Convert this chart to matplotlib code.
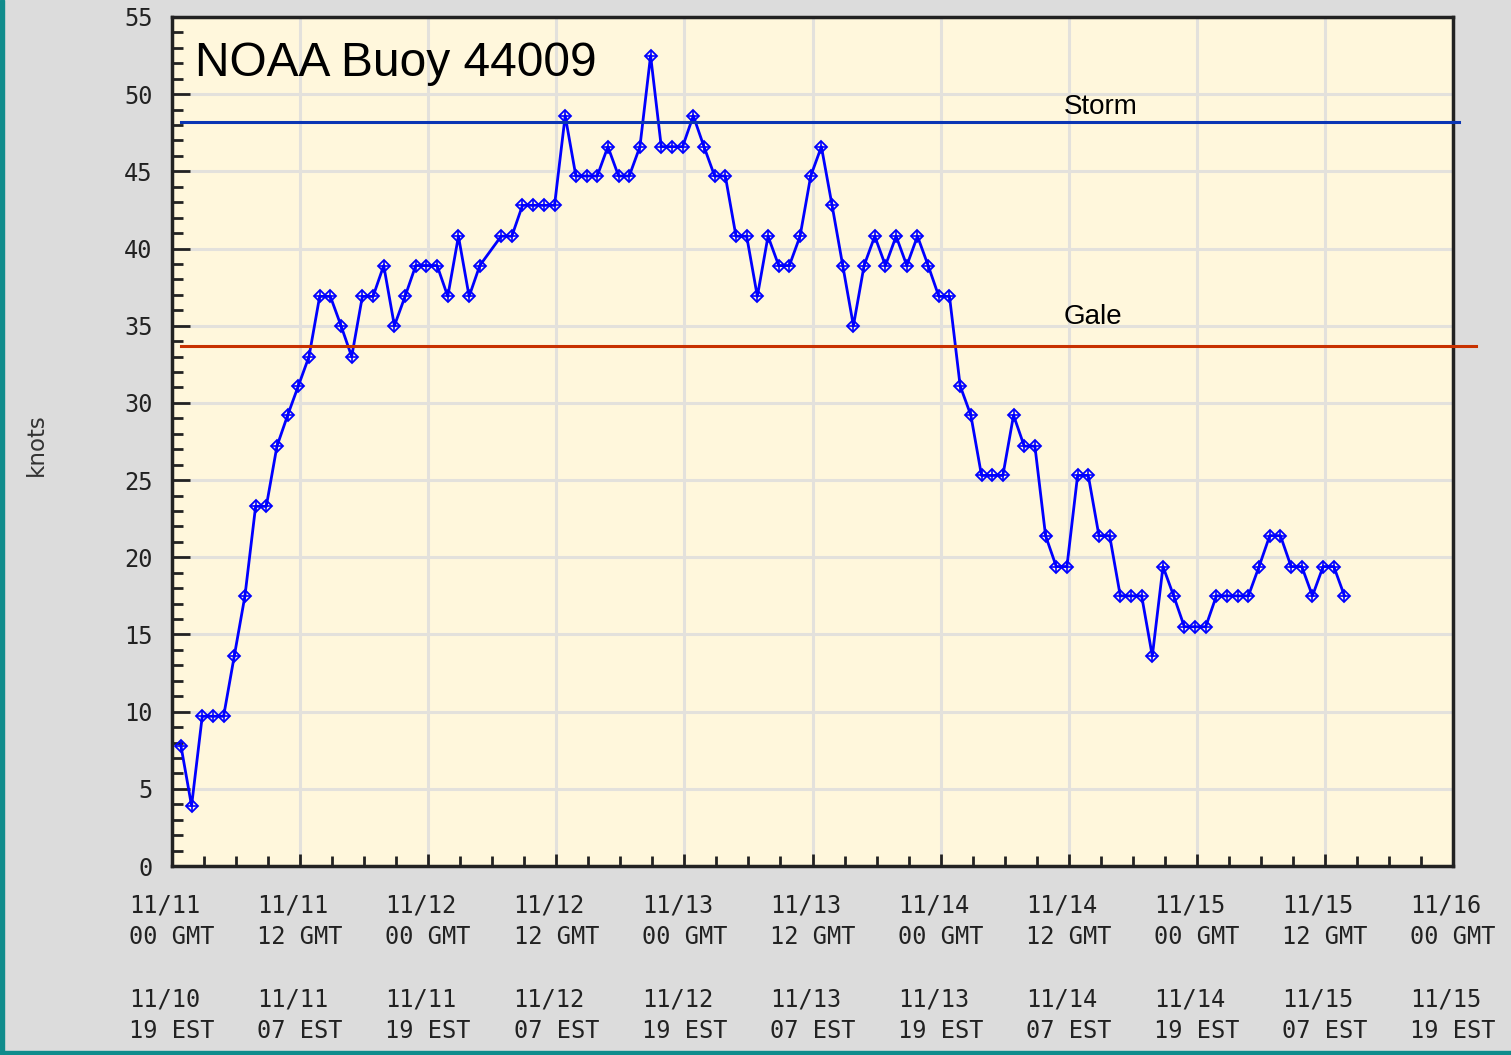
import numpy as np
import matplotlib
matplotlib.use("Agg")
import matplotlib.pyplot as plt
from matplotlib.patches import Rectangle

# hours after 11/11 00 GMT (obs taken at :50), wind speed in knots
obs_hour = [0, 1, 2, 3, 4, 5, 6, 7, 8, 9, 10, 11, 12, 13, 14, 15, 16, 17, 18, 19,
            20, 21, 22, 23, 24, 25, 26, 27, 28, 30, 31, 32, 33, 34, 35, 36, 37, 38, 39,
            40, 41, 42, 43, 44, 45, 46, 47, 48, 49, 50, 51, 52, 53, 54, 55, 56, 57, 58,
            59, 60, 61, 62, 63, 64, 65, 66, 67, 68, 69, 70, 71, 72, 73, 74, 75, 76, 77,
            78, 79, 80, 81, 82, 83, 84, 85, 86, 87, 88, 89, 90, 91, 92, 93, 94, 95, 96,
            97, 98, 99, 100, 101, 102, 103, 104, 105, 106, 107, 108, 109]
knots = [7.8, 3.9, 9.7, 9.7, 9.7, 13.6, 17.5, 23.3, 23.3, 27.2, 29.2, 31.1, 33.0, 36.9,
         36.9, 35.0, 33.0, 36.9, 36.9, 38.9, 35.0, 36.9, 38.9, 38.9, 38.9, 36.9, 40.8,
         36.9, 38.9, 40.8, 40.8, 42.8, 42.8, 42.8, 42.8, 48.6, 44.7, 44.7, 44.7, 46.6,
         44.7, 44.7, 46.6, 52.5, 46.6, 46.6, 46.6, 48.6, 46.6, 44.7, 44.7, 40.8, 40.8,
         36.9, 40.8, 38.9, 38.9, 40.8, 44.7, 46.6, 42.8, 38.9, 35.0, 38.9, 40.8, 38.9,
         40.8, 38.9, 40.8, 38.9, 36.9, 36.9, 31.1, 29.2, 25.3, 25.3, 25.3, 29.2, 27.2,
         27.2, 21.4, 19.4, 19.4, 25.3, 25.3, 21.4, 21.4, 17.5, 17.5, 17.5, 13.6, 19.4,
         17.5, 15.5, 15.5, 15.5, 17.5, 17.5, 17.5, 17.5, 19.4, 21.4, 21.4, 19.4, 19.4,
         17.5, 19.4, 19.4, 17.5]
obs_minute = 50

gmt_labels = ["11/11\n00 GMT", "11/11\n12 GMT", "11/12\n00 GMT", "11/12\n12 GMT",
              "11/13\n00 GMT", "11/13\n12 GMT", "11/14\n00 GMT", "11/14\n12 GMT",
              "11/15\n00 GMT", "11/15\n12 GMT", "11/16\n00 GMT"]
est_labels = ["11/10\n19 EST", "11/11\n07 EST", "11/11\n19 EST", "11/12\n07 EST",
              "11/12\n19 EST", "11/13\n07 EST", "11/13\n19 EST", "11/14\n07 EST",
              "11/14\n19 EST", "11/15\n07 EST", "11/15\n19 EST"]

storm_kt = 48.2
gale_kt = 33.7

BG = "#dcdcdc"
PLOT_BG = "#fff7dc"
GRID = "#e3e1dc"
BLUE = "#0000ff"

fig = plt.figure(figsize=(15.11, 10.55), dpi=100, facecolor=BG)
ax = fig.add_axes([172 / 1511, 1 - 866 / 1055, 1281 / 1511, 849 / 1055])
ax.set_facecolor(PLOT_BG)

t = np.array(obs_hour) + obs_minute / 60
ax.plot(t, knots, color=BLUE, lw=2, marker="D", ms=6.5, mfc="none", mec=BLUE, mew=1.3, zorder=4)
ax.plot(t, knots, ls="none", marker="+", ms=7, mec=BLUE, mew=1.2, zorder=5)

ax.set_xlim(0, 120)
ax.set_ylim(0, 55)
ax.set_xticks(np.arange(0, 121, 12))
ax.set_xticks(np.arange(0, 121, 3), minor=True)
ax.set_yticks(np.arange(0, 56, 5))
ax.set_yticks(np.arange(0, 56, 1), minor=True)
ax.grid(True, which="major", color=GRID, lw=2.2, zorder=0)
ax.set_axisbelow(True)

ax.set_xticklabels([g + "\n\n" + e for g, e in zip(gmt_labels, est_labels)],
                   family="DejaVu Sans Mono", fontsize=17, color="#222222",
                   linespacing=1.38, ma="left")
ax.set_yticklabels([str(v) for v in range(0, 56, 5)],
                   family="DejaVu Sans Mono", fontsize=17, color="#222222")
ax.tick_params(axis="both", which="both", direction="in", colors="#222222")
ax.tick_params(axis="y", which="major", length=13, width=2, pad=14)
ax.tick_params(axis="y", which="minor", length=8, width=2)
ax.tick_params(axis="x", which="major", length=9, width=2, pad=20)
ax.tick_params(axis="x", which="minor", length=7, width=2)

for s in ax.spines.values():
    s.set_color("#222222")
    s.set_linewidth(2.5)

ax.set_ylabel("knots", fontsize=16.5, color="#333333")
ax.yaxis.set_label_coords(48 / 1511, 1 - 445 / 1055, transform=fig.transFigure)

# threshold lines overlaid on the chart image
ax.plot([0.8, 120.6], [storm_kt, storm_kt], color="#0a35b4", lw=2.2, clip_on=False, zorder=6)
ax.plot([0.8, 122.2], [gale_kt, gale_kt], color="#c83200", lw=2.2, clip_on=False, zorder=6)
ax.text(83.5, storm_kt + 0.15, "Storm", family="Liberation Sans", fontsize=20, color="black",
        va="bottom", ha="left")
ax.text(83.5, gale_kt + 1.0, "Gale", family="Liberation Sans", fontsize=20, color="black",
        va="bottom", ha="left")
ax.text(2.2, 52.0, "NOAA Buoy 44009", family="Liberation Sans", fontsize=34.5, color="black",
        va="center", ha="left")

# teal frame on left and bottom edges
fig.patches.append(Rectangle((0, 0), 4 / 1511, 1, transform=fig.transFigure,
                             color="#108c8c", zorder=0))
fig.patches.append(Rectangle((0, 0), 1, 4 / 1055, transform=fig.transFigure,
                             color="#108c8c", zorder=0))

fig.savefig("out.png", dpi=100, facecolor=BG)
